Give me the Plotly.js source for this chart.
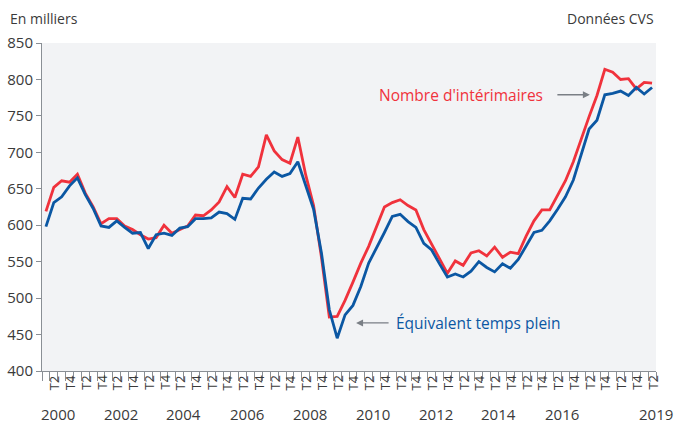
<!DOCTYPE html>
<html>
<head>
<meta charset="utf-8">
<script src="https://cdn.plot.ly/plotly-3.0.1.min.js"></script>
<style>html,body{margin:0;padding:0;background:#fff;}#chart{width:677px;height:423px;}</style>
</head>
<body>
<div id="chart"></div>
<script>
// Quarterly data, 2000 T1 to 2019 T2 (thousands)
const quarters = [];
for (let y = 2000; y <= 2019; y++) for (let q = 1; q <= 4; q++) quarters.push(y + " T" + q);
quarters.length = 78;

const interimaires = [
  619,652,661,659, 670,644,625,602, 609,609,599,594, 587,581,583,600,
  589,594,599,614, 613,621,632,653, 638,670,667,680, 724,702,690,685,
  721,669,627,556, 474,475,497,522, 548,571,598,625, 631,635,627,621,
  594,574,553,534, 551,545,562,565, 558,570,556,563, 561,585,606,621,
  621,641,661,687, 719,749,778,814, 810,800,801,787, 796,795
];
const etp = [
  598,631,639,654, 665,642,623,599, 597,606,597,589, 590,568,587,589,
  586,596,598,609, 609,610,618,616, 608,637,636,651, 663,673,667,671,
  687,655,622,562, 484,445,477,490, 516,548,568,590, 612,615,605,597,
  575,566,547,529, 533,529,537,550, 542,536,547,541, 553,571,590,593,
  606,622,639,662, 696,732,744,779, 781,784,778,789, 780,789
];
const quarterLabels = ["T2", "T4"];
const yearLabels = ["2000","2002","2004","2006","2008","2010","2012","2014","2016","2019"];

const RED = '#f0323c', BLUE = '#0b57a3', GREY = '#7a7f85', TXT = '#3a3a3a';
const FONT = '"Open Sans", "Noto Sans", sans-serif';

const idx = quarters.map((_, i) => i);

const traces = [
  {x: idx, y: interimaires, type: 'scatter', mode: 'lines', line: {color: RED, width: 2.8}, hoverinfo: 'skip'},
  {x: idx, y: etp, type: 'scatter', mode: 'lines', line: {color: BLUE, width: 2.8}, hoverinfo: 'skip'}
];

const annotations = [];
// T2 / T4 rotated labels
idx.forEach(i => {
  const q = i % 4;
  if (q === 1 || q === 3) {
    annotations.push({x: i, xref: 'x', y: 0, yref: 'paper', yanchor: 'top', xanchor: 'center',
      yshift: -2, text: q === 1 ? quarterLabels[0] : quarterLabels[1], textangle: -90, showarrow: false,
      font: {family: FONT, size: 13, color: TXT}});
  }
});
// year labels
yearLabels.forEach(y => {
  const k = parseInt(y, 10) - 2000;
  annotations.push({x: 4 * k + 1.5, xref: 'x', y: 0, yref: 'paper', yanchor: 'top', xanchor: 'center',
    yshift: -31, text: y, showarrow: false, font: {family: FONT, size: 15, color: TXT}});
});
// series labels
annotations.push({x: 52.7, y: 779, xref: 'x', yref: 'y', text: "Nombre d'intérimaires", showarrow: false,
  font: {family: FONT, size: 15.5, color: RED}});
annotations.push({x: 69.1, y: 779, xref: 'x', yref: 'y', text: '', showarrow: true, ax: -34, ay: 0,
  arrowhead: 2, arrowsize: 1, arrowwidth: 1.4, arrowcolor: GREY});
annotations.push({x: 54.9, y: 466, xref: 'x', yref: 'y', text: 'Équivalent temps plein', showarrow: false,
  font: {family: FONT, size: 15.5, color: BLUE}});
annotations.push({x: 39.4, y: 466, xref: 'x', yref: 'y', text: '', showarrow: true, ax: 34, ay: 0,
  arrowhead: 2, arrowsize: 1, arrowwidth: 1.4, arrowcolor: GREY});
// corner texts
annotations.push({x: 0, xref: 'paper', xshift: -34, y: 1, yref: 'paper', yshift: 25, xanchor: 'left', yanchor: 'middle',
  text: 'En milliers', showarrow: false, font: {family: FONT, size: 14, color: TXT}});
annotations.push({x: 1, xref: 'paper', y: 1, yref: 'paper', yshift: 25, xanchor: 'right', yanchor: 'middle',
  text: 'Données CVS', showarrow: false, font: {family: FONT, size: 14, color: TXT}});

const yearBounds = [];
for (let k = 0; k <= 19; k++) yearBounds.push(4 * k - 0.5);

const layout = {
  width: 677, height: 423,
  margin: {l: 42, r: 21, t: 43, b: 52},
  paper_bgcolor: '#ffffff',
  plot_bgcolor: '#f2f3f5',
  showlegend: false,
  font: {family: FONT, color: TXT},
  xaxis: {
    range: [-0.5, 77.5], showgrid: false, zeroline: false,
    showline: true, linecolor: '#8a8f95', linewidth: 1,
    tickmode: 'array', tickvals: yearBounds, ticktext: yearBounds.map(() => ''),
    ticks: 'outside', ticklen: 32, tickcolor: '#8a8f95', tickwidth: 1, showticklabels: false,
    minor: {tick0: -0.5, dtick: 1, ticks: 'outside', ticklen: 9, tickcolor: '#8a8f95', tickwidth: 1, showgrid: false}
  },
  yaxis: {
    range: [400, 850], dtick: 50, tick0: 400, showgrid: false, zeroline: false,
    showline: true, linecolor: '#8a8f95', linewidth: 1,
    ticks: 'outside', ticklen: 5, tickcolor: '#8a8f95',
    tickfont: {family: FONT, size: 15, color: TXT}
  },
  annotations: annotations
};

Plotly.newPlot('chart', traces, layout, {staticPlot: true, displayModeBar: false});
</script>
</body>
</html>
